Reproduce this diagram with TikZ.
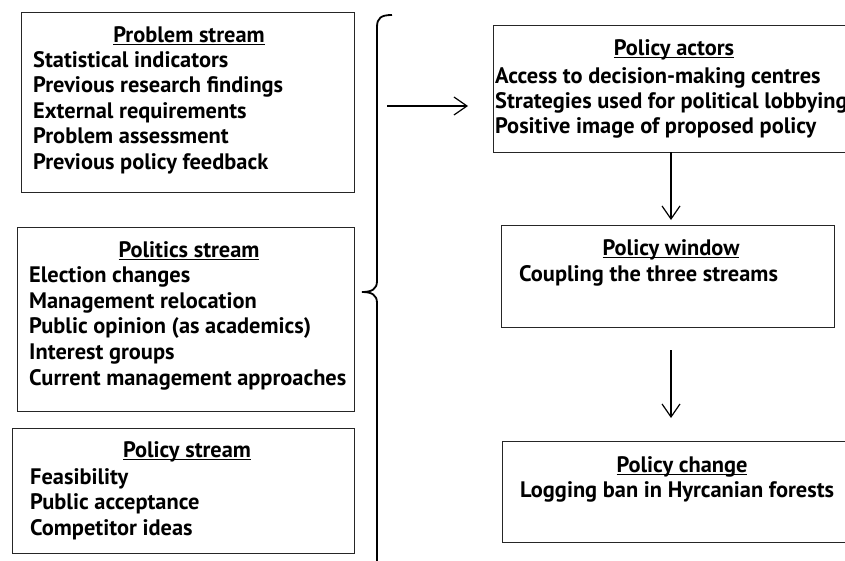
\documentclass[tikz,border=0pt]{standalone}
\usepackage{fontspec}
\setmainfont{PT Sans}
\usetikzlibrary{arrows, arrows.meta}
\usetikzlibrary{calc}

\newcommand{\ulbox}[1]{\setbox0\hbox{#1}\rlap{\rule[-3pt]{\wd0}{1.4pt}}\box0}

\begin{document}
\begin{tikzpicture}[x=1pt, y=-1pt,
    box/.style={draw=black!85, line width=1.4pt, inner sep=0pt, anchor=north west},
    title/.style={font=\bfseries\fontsize{22.4}{25}\selectfont, inner sep=0pt, anchor=base},
    item/.style={font=\bfseries\fontsize{22.4}{25}\selectfont, inner sep=0pt, anchor=base west},
    arr/.style={line width=1.2pt, -{Straight Barb[length=13pt, width=18pt, line width=1.2pt]}}]
      \useasboundingbox (0,0) rectangle (845,560);
      \clip (0,0) rectangle (845,560);

      % left column: the three streams
      \node[box, minimum width=333pt, minimum height=180pt] (prob) at (21,12) {};
      \node[title] (probT) at (189,42) {\ulbox{Problem stream}};
      \foreach \t [count=\i] in {Statistical indicators, Previous research findings, External requirements, Problem assessment, Previous policy feedback}
        \node[item] (prob\i) at (33,{41.5+25.5*\i}) {\t};

      \node[box, minimum width=337pt, minimum height=184pt] (polit) at (17,227) {};
      \node[title] (politT) at (189,257) {\ulbox{Politics stream}};
      \foreach \t [count=\i] in {Election changes, Management relocation, Public opinion (as academics), Interest groups, Current management approaches}
        \node[item] (polit\i) at (29,{256.5+25.8*\i}) {\t};

      \node[box, minimum width=342pt, minimum height=125pt] (polst) at (12,428) {};
      \node[title] (polstT) at (187,457) {\ulbox{Policy stream}};
      \foreach \t [count=\i] in {Feasibility, Public acceptance, Competitor ideas}
        \node[item] (polst\i) at (30,{458.5+25.5*\i}) {\t};

      % brace
      \draw[line width=1.8pt] (392,15) .. controls (381,15) and (377,18) .. (377,27) -- (377,281)
        .. controls (377,289) and (372,292) .. (362,292)
        .. controls (372,292) and (377,295) .. (377,303) -- (377,565);

      % right column
      \node[box, minimum width=362pt, minimum height=127pt] (actors) at (493,25) {};
      \node[title] (actorsT) at (674,55) {\ulbox{Policy actors}};
      \foreach \t [count=\i] in {Access to decision-making centres, Strategies used for political lobbying, Positive image of proposed policy}
        \node[item] (actors\i) at (495,{58+25*\i}) {\t};

      \node[box, minimum width=333pt, minimum height=102pt] (window) at (501,225) {};
      \node[title] (windowT) at (671,255) {\ulbox{Policy window}};
      \node[item] (window1) at (519,281) {Coupling the three streams};

      \node[box, minimum width=360pt, minimum height=101pt] (change) at (502,441) {};
      \node[title] (changeT) at (682,472) {\ulbox{Policy change}};
      \node[item] (change1) at (520,497) {Logging ban in Hyrcanian forests};

      % arrows
      \coordinate (braceout) at (387,106);
      \draw[arr, shorten >=25pt] (braceout) -- (actors.west |- braceout);
      \draw[arr, shorten >=5pt] (671,152) -- (671,225);
      \draw[arr, shorten <=23pt, shorten >=23pt] (671,327) -- (671,441);
\end{tikzpicture}
\end{document}
